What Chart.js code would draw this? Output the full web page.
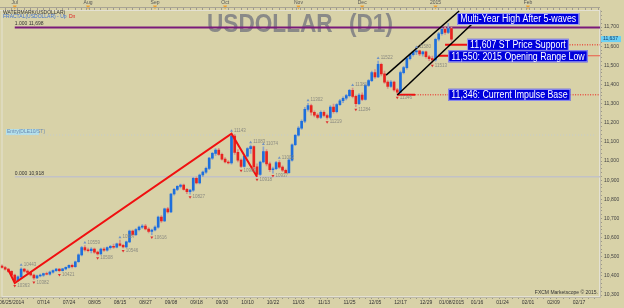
<!DOCTYPE html>
<html>
<head>
<meta charset="utf-8">
<script src="https://cdn.jsdelivr.net/npm/chart.js@4.4.0/dist/chart.umd.min.js"></script>
<style>
    html, body { margin: 0; padding: 0; background: #d8d2a8; }
    canvas { display: block; }
</style>
</head>
<body>
<canvas id="grafico" width="624" height="308"></canvas>
<script>
// Candles diários USDOLLAR (índice 0 = 06/25/2014)
const abertura = [
    10452, 10444, 10436, 10424, 10404, 10375, 10395, 10436, 10425, 10418,
    10405, 10390, 10400, 10404, 10412, 10409, 10420, 10428, 10436, 10428,
    10437, 10445, 10455, 10448, 10474, 10510, 10548, 10536, 10532, 10540,
    10524, 10515, 10540, 10534, 10548, 10555, 10550, 10568, 10560, 10552,
    10578, 10634, 10615, 10642, 10655, 10661, 10645, 10632, 10640, 10655,
    10708, 10688, 10750, 10735, 10828, 10852, 10868, 10875, 10852, 10840,
    10848, 10910, 10886, 10927, 10942, 10962, 11015, 11040, 11058, 11035,
    11010, 10995, 10990, 11130, 11045, 11005, 10972, 11025, 11065, 11075,
    10970, 10930, 10995, 11050, 10985, 10955, 10960, 10992, 10968, 10952,
    10940, 11005, 11085, 11135, 11172, 11208, 11270, 11290, 11255, 11240,
    11228, 11255, 11238, 11228, 11282, 11258, 11295, 11315, 11328, 11342,
    11370, 11338, 11300, 11345, 11322, 11395, 11420, 11462, 11440, 11505,
    11455, 11412, 11390, 11412, 11372, 11360, 11462, 11488, 11535, 11556,
    11570, 11576, 11560, 11570, 11545, 11535, 11528, 11636, 11665, 11688,
    11672, 11692
];
const maxima = [
    10458, 10450, 10440, 10428, 10410, 10400, 10443, 10440, 10432, 10422,
    10410, 10405, 10410, 10415, 10420, 10425, 10432, 10440, 10439, 10440,
    10448, 10458, 10462, 10478, 10515, 10555, 10559, 10545, 10548, 10546,
    10530, 10545, 10548, 10552, 10560, 10566, 10572, 10587, 10565, 10582,
    10640, 10640, 10648, 10660, 10668, 10670, 10652, 10645, 10662, 10712,
    10715, 10755, 10758, 10832, 10858, 10872, 10880, 10880, 10858, 10852,
    10915, 10918, 10932, 10948, 10968, 11020, 11045, 11065, 11066, 11042,
    11018, 11002, 11143, 11140, 11060, 11012, 11030, 11070, 11083, 11080,
    10985, 11000, 11074, 11060, 10995, 10968, 10998, 11002, 10975, 10958,
    11012, 11090, 11140, 11180, 11215, 11280, 11302, 11298, 11262, 11248,
    11262, 11262, 11245, 11290, 11298, 11300, 11322, 11335, 11348, 11375,
    11381, 11345, 11352, 11356, 11402, 11425, 11470, 11478, 11522, 11512,
    11470, 11420, 11420, 11418, 11380, 11470, 11495, 11540, 11560, 11575,
    11580, 11580, 11575, 11574, 11552, 11548, 11642, 11672, 11695, 11700,
    11720, 11700
];
const minima = [
    10440, 10430, 10418, 10398, 10363, 10370, 10390, 10420, 10412, 10400,
    10382, 10386, 10395, 10398, 10405, 10404, 10415, 10424, 10421, 10425,
    10432, 10440, 10442, 10445, 10470, 10505, 10530, 10525, 10520, 10518,
    10508, 10512, 10528, 10530, 10540, 10544, 10546, 10556, 10546, 10548,
    10574, 10608, 10610, 10635, 10648, 10640, 10625, 10616, 10635, 10650,
    10680, 10684, 10728, 10730, 10822, 10845, 10860, 10848, 10830, 10827,
    10842, 10880, 10880, 10918, 10935, 10955, 11008, 11030, 11030, 11005,
    10990, 10985, 10984, 11035, 10995, 10965, 10968, 11020, 11040, 10960,
    10918, 10925, 10990, 10975, 10945, 10937, 10955, 10962, 10945, 10935,
    10935, 11000, 11080, 11130, 11165, 11200, 11260, 11240, 11230, 11220,
    11222, 11230, 11219, 11222, 11250, 11252, 11290, 11305, 11320, 11335,
    11330, 11284, 11295, 11315, 11318, 11390, 11415, 11432, 11436, 11445,
    11405, 11380, 11385, 11365, 11346, 11355, 11455, 11480, 11528, 11548,
    11556, 11550, 11548, 11538, 11525, 11513, 11522, 11628, 11658, 11662,
    11665, 11625
];
const fechamento = [
    10444, 10436, 10424, 10404, 10375, 10395, 10436, 10425, 10418, 10405,
    10390, 10400, 10404, 10412, 10409, 10420, 10428, 10436, 10428, 10437,
    10445, 10455, 10448, 10474, 10510, 10548, 10536, 10532, 10540, 10524,
    10515, 10540, 10534, 10548, 10555, 10550, 10568, 10560, 10552, 10578,
    10634, 10615, 10642, 10655, 10661, 10645, 10632, 10640, 10655, 10708,
    10688, 10750, 10735, 10828, 10852, 10868, 10875, 10852, 10840, 10848,
    10910, 10886, 10927, 10942, 10962, 11015, 11040, 11058, 11035, 11010,
    10995, 10990, 11130, 11045, 11005, 10972, 11025, 11065, 11075, 10970,
    10930, 10995, 11050, 10985, 10955, 10960, 10992, 10968, 10952, 10940,
    11005, 11085, 11135, 11172, 11208, 11270, 11290, 11255, 11240, 11228,
    11255, 11238, 11228, 11282, 11258, 11295, 11315, 11328, 11342, 11370,
    11338, 11300, 11345, 11322, 11395, 11420, 11462, 11440, 11505, 11455,
    11412, 11390, 11412, 11372, 11360, 11462, 11488, 11535, 11556, 11570,
    11576, 11560, 11570, 11545, 11535, 11528, 11636, 11665, 11688, 11672,
    11692, 11637
];

// Rótulos dos eixos
const rotulosDatas = ['06/25/2014', '07/14', '07/24', '08/05', '08/15', '08/27', '09/08', '09/18',
    '09/30', '10/10', '10/22', '11/03', '11/13', '11/25', '12/05', '12/17', '12/29', '01/08/2015',
    '01/16', '01/24', '02/01', '02/09', '02/17'];
const indicesDatas = [3, 13, 21, 29, 37, 45, 53, 61, 69, 77, 85, 93, 101, 109, 117, 125, 133, 141,
    149, 157, 165, 173, 181];
const rotulosMeses = ['Jul', 'Aug', 'Sep', 'Oct', 'Nov', 'Dec', '2015', 'Feb'];
const indicesMeses = [4, 27, 48, 70, 93, 113, 136, 165];

// Fractais (topos e fundos marcados)
const fractaisAltaIdx = [6, 26, 37, 72, 78, 82, 87, 96, 110, 118, 130];
const fractaisAltaPreco = [10443, 10559, 10587, 11143, 11083, 11074, 11002, 11302, 11381, 11522, 11580];
const fractaisBaixaIdx = [4, 10, 18, 30, 38, 47, 59, 75, 80, 85, 102, 111, 124, 135];
const fractaisBaixaPreco = [10363, 10382, 10421, 10508, 10546, 10616, 10827, 10965, 10918, 10937, 11219, 11284, 11346, 11513];

// ZigZag e canal de alta
const zigzagIdx = [2, 4, 72, 80];
const zigzagPreco = [10432, 10363, 11143, 10918];
const canalSuperiorIdx = [120.5, 143.4];
const canalSuperiorPreco = [11449, 11784];
const canalInferiorIdx = [124, 148.1];
const canalInferiorPreco = [11345, 11726];

// Níveis de preço
const nivelMaximaAnual = 11698;
const nivelFibZero = 10918;
const nivelEntrada = 11136;
const nivelSuporte = 11607;
const nivelAberturaRange = 11550;
const nivelBaseImpulso = 11346;
const precoAtual = 11637;

const X_MIN = -0.47;
const X_MAX = 187.6;

function alta(i) {
    return fechamento[i] >= abertura[i];
}

function pontos(indices, precos) {
    return indices.map((v, i) => ({ x: v, y: precos[i] }));
}

// Função para montar um dataset de linha
function linha(dados, cor, largura, tracejado, ordem) {
    return {
        type: 'line',
        data: dados,
        borderColor: cor,
        borderWidth: largura,
        borderDash: tracejado || [],
        pointRadius: 0,
        fill: false,
        tension: 0,
        order: ordem
    };
}

function horizontal(preco, x0, x1) {
    return [{ x: x0, y: preco }, { x: x1, y: preco }];
}

function textoComprimido(ctx, texto, x, y, escala) {
    ctx.save();
    ctx.translate(x, y);
    ctx.scale(escala, 1);
    ctx.fillText(texto, 0, 0);
    ctx.restore();
}

// Caixa azul de anotação
function caixaAzul(ctx, texto, x, yCentro) {
    ctx.font = '10px "Liberation Sans"';
    const w = ctx.measureText(texto).width * 0.88 + 6;
    ctx.fillStyle = '#0000dc';
    ctx.fillRect(x, yCentro - 6, w, 12);
    ctx.strokeStyle = '#a0a0f0';
    ctx.lineWidth = 1;
    ctx.strokeRect(x + 0.5, yCentro - 5.5, w - 1, 11);
    ctx.fillStyle = '#ffffff';
    ctx.textBaseline = 'middle';
    textoComprimido(ctx, texto, x + 3, yCentro + 0.5, 0.88);
}

const sobreposicao = {
    id: 'sobreposicao',
    beforeDraw(chart) {
        const ctx = chart.ctx;
        ctx.save();
        ctx.fillStyle = '#d8d2a8';
        ctx.fillRect(0, 0, chart.width, chart.height);
        ctx.restore();
    },
    beforeDatasetsDraw(chart) {
        const { ctx, chartArea: a, scales: { x, y } } = chart;
        ctx.save();
        ctx.strokeStyle = '#e4e1d2';
        ctx.lineWidth = 1;
        ctx.strokeRect(a.left + 1.5, a.top + 0.5, a.right - a.left - 2, a.bottom - a.top - 1);

        // título
        ctx.font = 'bold 26px "Liberation Sans"';
        ctx.fillStyle = '#8a8a88';
        ctx.textBaseline = 'alphabetic';
        textoComprimido(ctx, 'USDOLLAR', 207, 31.5, 0.87);
        textoComprimido(ctx, '(D1)', 349, 31.5, 0.87);

        // textos do canto
        ctx.font = '5px "Liberation Sans"';
        ctx.textBaseline = 'middle';
        ctx.fillStyle = '#333333';
        ctx.fillText('WATERMARK(USDOLLAR)', 3, 12.5);
        ctx.fillStyle = '#3d6fd0';
        ctx.fillText('FRACTAL(USDOLLAR) - Up', 3, 17);
        ctx.fillStyle = '#e02020';
        ctx.fillText('Dn', 3 + ctx.measureText('FRACTAL(USDOLLAR) - Up ').width + 1, 17);

        // rótulos de fibonacci
        ctx.fillStyle = '#333333';
        const xf = x.getPixelForValue(4);
        ctx.fillText('1.000 11,698', xf, y.getPixelForValue(nivelMaximaAnual) - 3.5);
        ctx.fillText('0.000 10,918', xf, y.getPixelForValue(nivelFibZero) - 3.5);

        // rótulo de entrada
        const ye = y.getPixelForValue(nivelEntrada) - 3;
        ctx.fillStyle = '#b4e0ea';
        ctx.fillRect(6, ye - 3, 33, 6);
        ctx.fillStyle = '#6a88b0';
        ctx.fillText('Entry(DLE10/ST)', 7, ye);

        ctx.font = '5px "Liberation Sans"';
        ctx.textAlign = 'right';
        ctx.fillStyle = '#333333';
        ctx.fillText('FXCM Marketscope \u00a9 2015.', a.right - 2, a.bottom - 4);
        ctx.restore();
    },
    afterDatasetsDraw(chart) {
        const { ctx, chartArea: a, scales: { x, y } } = chart;
        ctx.save();
        ctx.font = '4.5px "Liberation Sans"';
        ctx.textBaseline = 'middle';

        // fractais de alta
        fractaisAltaIdx.forEach((idx, i) => {
            const px = x.getPixelForValue(idx);
            const py = y.getPixelForValue(fractaisAltaPreco[i]) - 3;
            ctx.fillStyle = '#6f92c4';
            ctx.beginPath();
            ctx.moveTo(px - 1.5, py + 1);
            ctx.lineTo(px + 1.5, py + 1);
            ctx.lineTo(px, py - 1.5);
            ctx.fill();
            ctx.fillStyle = '#8a8a80';
            ctx.fillText(String(fractaisAltaPreco[i]), px + 2.5, py);
        });

        // fractais de baixa
        fractaisBaixaIdx.forEach((idx, i) => {
            const px = x.getPixelForValue(idx);
            const py = y.getPixelForValue(fractaisBaixaPreco[i]) + 3;
            ctx.fillStyle = '#e03030';
            ctx.beginPath();
            ctx.moveTo(px - 1.5, py - 1);
            ctx.lineTo(px + 1.5, py - 1);
            ctx.lineTo(px, py + 1.5);
            ctx.fill();
            ctx.fillStyle = '#8a8a80';
            ctx.fillText(String(fractaisBaixaPreco[i]), px + 2.5, py);
        });

        // marcadores laranja dos meses
        ctx.fillStyle = '#f0a030';
        indicesMeses.forEach(idx => {
            const px = x.getPixelForValue(idx);
            ctx.beginPath();
            ctx.moveTo(px - 2, 5.5);
            ctx.lineTo(px + 2, 5.5);
            ctx.lineTo(px, 9.5);
            ctx.fill();
        });
        ctx.strokeStyle = '#a8a494';
        ctx.beginPath();
        ctx.moveTo(0, 7.5);
        ctx.lineTo(a.right, 7.5);
        ctx.stroke();

        // caixas de anotação
        caixaAzul(ctx, 'Multi-Year High After 5-waves', x.getPixelForValue(142.8), 19);
        caixaAzul(ctx, '11,607 ST Price Support', x.getPixelForValue(145.9), y.getPixelForValue(nivelSuporte));
        caixaAzul(ctx, '11,550: 2015 Opening Range Low', x.getPixelForValue(140), y.getPixelForValue(nivelAberturaRange) + 0.5);
        caixaAzul(ctx, '11,346: Current Impulse Base', x.getPixelForValue(140), y.getPixelForValue(nivelBaseImpulso));

        // preço atual no eixo
        const yp = y.getPixelForValue(precoAtual);
        ctx.fillStyle = '#6cd0f4';
        ctx.fillRect(a.right + 1, yp - 3, 20, 6);
        ctx.fillStyle = '#123a66';
        ctx.font = '5px "Liberation Sans"';
        ctx.fillText('11,637', a.right + 3, yp);
        ctx.restore();
    }
};

const corpos = abertura.map((o, i) => ({ x: i, y: [Math.min(o, fechamento[i]), Math.max(o, fechamento[i])] }));
const pavios = maxima.map((h, i) => ({ x: i, y: [minima[i], h] }));

const eixoFonte = { size: 5, family: 'Liberation Sans' };

new Chart(document.getElementById('grafico'), {
    type: 'bar',
    data: {
        datasets: [
            linha(horizontal(nivelEntrada, 1, 186), '#c4ccd0', 1, [1, 2], 5),
            linha(horizontal(nivelFibZero, 4, X_MAX), '#c2c2c6', 1.5, null, 5),
            linha(horizontal(nivelMaximaAnual, 4, X_MAX), '#7a1a7a', 2, null, 5),
            linha(horizontal(nivelSuporte, 139, 145.9), '#ee1111', 2, null, 4),
            linha(horizontal(nivelSuporte, 145.9, X_MAX), '#ee1111', 1, [1, 1.5], 4),
            linha(horizontal(nivelAberturaRange, 136.8, 140), '#ee1111', 2, null, 4),
            linha(horizontal(nivelAberturaRange, 140, X_MAX), '#ec5a48', 1, null, 4),
            linha(horizontal(nivelBaseImpulso, 124, 129.6), '#ee1111', 2, null, 4),
            linha(horizontal(nivelBaseImpulso, 129.6, X_MAX), '#ee1111', 1, [1, 1.5], 4),
            {
                type: 'bar',
                data: pavios,
                grouped: false,
                barThickness: 1,
                backgroundColor: ctx => alta(ctx.dataIndex) ? '#8aa4cc' : '#d8908a',
                order: 2
            },
            {
                type: 'bar',
                data: corpos,
                grouped: false,
                barThickness: 2,
                backgroundColor: ctx => alta(ctx.dataIndex) ? '#1e6fdc' : '#e8231f',
                order: 1
            },
            linha(pontos(zigzagIdx, zigzagPreco), '#f01010', 2, null, 0),
            linha(pontos(canalSuperiorIdx, canalSuperiorPreco), '#000000', 1.5, null, 0),
            linha(pontos(canalInferiorIdx, canalInferiorPreco), '#000000', 1.5, null, 0)
        ]
    },
    options: {
        responsive: false,
        animation: false,
        devicePixelRatio: 1,
        layout: { padding: 0 },
        plugins: { legend: { display: false }, tooltip: { enabled: false } },
        scales: {
            x: {
                type: 'linear',
                position: 'bottom',
                min: X_MIN,
                max: X_MAX,
                offset: false,
                afterFit: s => { s.height = 11; },
                afterBuildTicks: s => {
                    const t = [];
                    for (let v = 1; v <= 187; v += 2) t.push({ value: v });
                    s.ticks = t;
                },
                grid: { drawOnChartArea: false, drawTicks: true, tickLength: 2, color: '#9c9888' },
                border: { display: true, color: '#bdb9a6' },
                ticks: {
                    autoSkip: false, maxRotation: 0, minRotation: 0, padding: 1,
                    color: '#333333', font: eixoFonte,
                    callback: v => {
                        const k = indicesDatas.indexOf(v);
                        return k >= 0 ? rotulosDatas[k] : '';
                    }
                }
            },
            xTop: {
                type: 'linear',
                axis: 'x',
                position: 'top',
                min: X_MIN,
                max: X_MAX,
                offset: false,
                afterFit: s => { s.height = 10; },
                afterBuildTicks: s => {
                    const t = [];
                    for (let v = 0; v <= 186; v += 2) t.push(v);
                    indicesMeses.forEach(v => { if (!t.includes(v)) t.push(v); });
                    s.ticks = t.sort((p, q) => p - q).map(v => ({ value: v }));
                },
                grid: { drawOnChartArea: false, drawTicks: true, tickLength: 2, color: '#a09c8c' },
                border: { display: true, color: '#e4e1d2' },
                ticks: {
                    autoSkip: false, maxRotation: 0, minRotation: 0, padding: 2,
                    color: '#555555', font: eixoFonte,
                    callback: v => {
                        const k = indicesMeses.indexOf(v);
                        return k >= 0 ? rotulosMeses[k] : '';
                    }
                }
            },
            y: {
                type: 'linear',
                position: 'right',
                min: 10290,
                max: 11789,
                afterFit: s => { s.width = 24; },
                afterBuildTicks: s => {
                    const t = [];
                    for (let v = 10300; v <= 11780; v += 20) t.push({ value: v });
                    s.ticks = t;
                },
                grid: { drawOnChartArea: false, drawTicks: true, tickLength: 2, color: '#9c9888' },
                border: { display: true, color: '#bdb9a6' },
                ticks: {
                    autoSkip: false, padding: 2,
                    color: '#444444', font: eixoFonte,
                    callback: v => v % 100 === 0 ? v.toLocaleString('en-US') : ''
                }
            }
        }
    },
    plugins: [sobreposicao]
});
</script>
</body>
</html>
